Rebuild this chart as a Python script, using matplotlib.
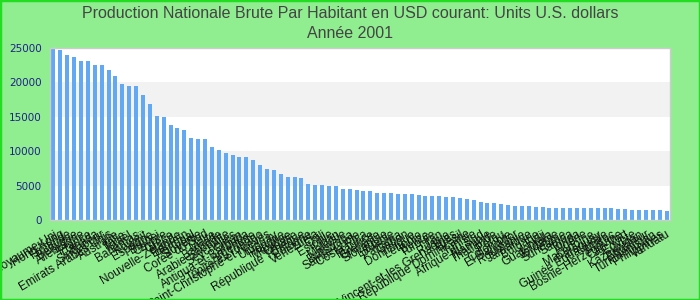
import matplotlib
matplotlib.use("Agg")
import matplotlib.pyplot as plt
import numpy as np

# Data (GNI per capita, USD, 2001)
countries = [
    "Royaume-Uni", "Hong Kong", "Finlande", "Belgique", "Allemagne", "France",
    "Canada", "Singapour", "Emirats Arabes Unis", "Australie", "Italie", "Israël",
    "Bahamas", "Koweït", "Espagne", "Brunei", "Chypre", "Grèce",
    "Nouvelle-Zélande", "Bahreïn", "Portugal", "Slovénie", "Corée du Sud",
    "Malte", "Barbade", "Arabie Saoudite", "Seychelles", "Oman",
    "Antigua-et-Barbuda", "Argentine", "Trinité-et-Tobago",
    "Saint-Christophe-et-Niévès", "Uruguay", "Hongrie", "Mexique", "Croatie",
    "République Tchèque", "Pologne", "Venezuela", "Chili", "Estonie", "Liban",
    "Malaisie", "Botswana", "Sainte-Lucie", "Costa Rica", "Maurice", "Grenade",
    "Slovaquie", "Lituanie", "Panama", "Gabon", "Dominique", "Lettonie",
    "Belize", "Turquie", "Iran", "Russie", "Saint-Vincent-et-les Grenadines",
    "Brésil", "République Dominicaine", "Tunisie", "Afrique du Sud", "Namibie",
    "Thaïlande", "Pérou", "Colombie", "El Salvador", "Roumanie", "Jamaïque",
    "Bulgarie", "Fidji", "Guatemala", "Jordanie", "Suriname", "Samoa", "Tonga",
    "Algérie", "Macédoine", "Paraguay", "Guinée Equatoriale", "Maroc",
    "Bosnie-Herzégovine", "Cap-Vert", "Egypte", "Kazakhstan", "Equateur",
    "Turkménistan", "Philippines", "Vanuatu",
]
values = [
    24900, 24760, 24030, 23740, 23150, 23150, 22570, 22570, 21840, 20970,
    19800, 19510, 19510, 18200, 16890, 15140, 15000, 13830, 13400, 13100,
    11940, 11800, 11800, 10630, 10190, 9760, 9470, 9180, 9180, 8740,
    8010, 7430, 7280, 6700, 6260, 6260, 6120, 5240, 5100, 5100,
    4950, 4950, 4510, 4510, 4370, 4220, 4220, 3930, 3930, 3930,
    3790, 3790, 3790, 3640, 3500, 3500, 3500, 3350, 3350, 3200,
    3060, 2910, 2620, 2480, 2480, 2330, 2180, 2040, 2040, 2040,
    1890, 1890, 1750, 1750, 1750, 1750, 1750, 1750, 1750, 1750,
    1750, 1750, 1600, 1600, 1460, 1460, 1460, 1460, 1460, 1310,
]
yticks = [0, 5000, 10000, 15000, 20000, 25000]

bg = "#90ee90"
fig = plt.figure(figsize=(7, 3), dpi=100, facecolor=bg)
ax = fig.add_axes([50 / 700, 1 - 220 / 300, 620 / 700, 172 / 300])
ax.set_facecolor("white")

# alternating grey bands
for lo, hi in [(5000, 10000), (15000, 20000)]:
    ax.axhspan(lo, hi, color="#f2f2f2", zorder=0, lw=0)

x = np.arange(len(values))
ax.bar(x, values, width=0.58, color="#62a8f2", zorder=2)
ax.set_xlim(-0.5, len(values) - 0.5)
ax.set_ylim(0, 25000)

ax.set_yticks(yticks)
ax.set_yticklabels([str(v) for v in yticks], fontsize=7.5, color="#20208a",
                   family="DejaVu Sans")
ax.set_xticks(x)
ax.set_xticklabels(countries, rotation=31, ha="right", rotation_mode="anchor",
                   fontsize=8.5, color="#111111", family="Liberation Sans")
ax.tick_params(axis="y", length=0, pad=6)
ax.tick_params(axis="x", length=0, pad=6)
for s in ax.spines.values():
    s.set_color("#cccccc")
    s.set_linewidth(1)

fig.text(0.5, 1 - 13 / 300,
         "Production Nationale Brute Par Habitant en USD courant: Units U.S. dollars",
         ha="center", va="center", fontsize=11.5, color="#444444",
         family="Liberation Sans")
fig.text(0.5, 1 - 33 / 300, "Année 2001", ha="center", va="center",
         fontsize=11.5, color="#444444", family="Liberation Sans")

# bright green frame around the figure
fig.patches.append(plt.Rectangle((0, 0), 1, 1, transform=fig.transFigure,
                                 fill=False, edgecolor="#22dd22", lw=2.5))

fig.savefig("out.png", dpi=100, facecolor=bg)
